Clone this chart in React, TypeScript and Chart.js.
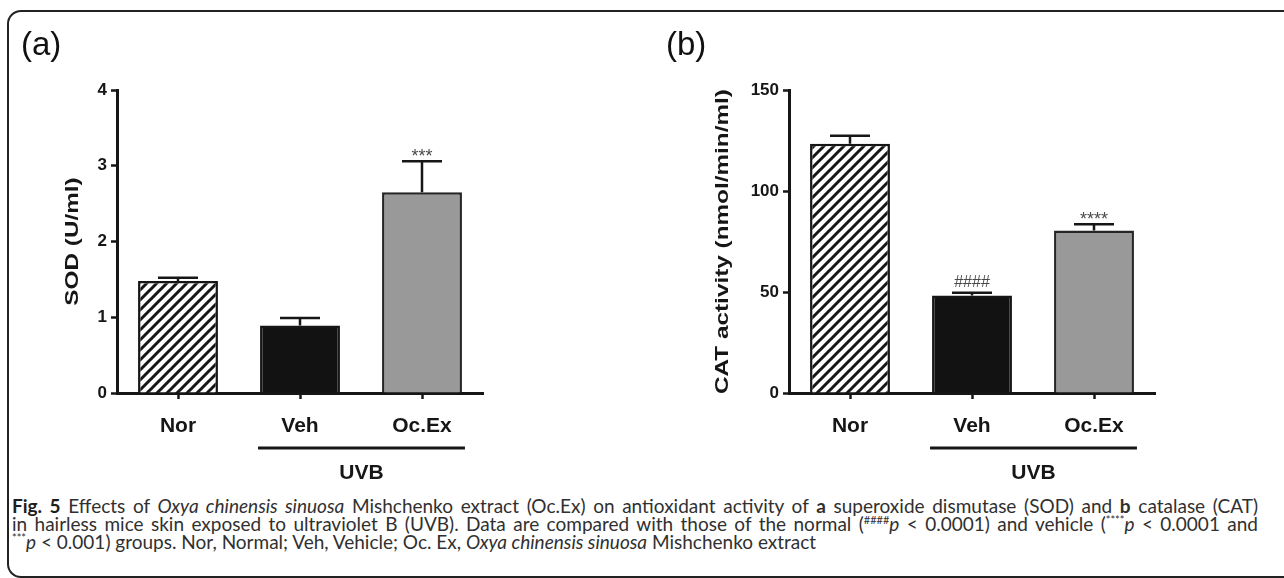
import React, { useEffect, useRef } from 'react';
import { Chart, registerables } from 'chart.js';

Chart.register(...registerables);

// ---------- data ----------
const categories = ['Nor', 'Veh', 'Oc.Ex'];

const sodMean = [1.48, 0.89, 2.65];
const sodErr = [0.04, 0.1, 0.41];
const sodSig = ['', '', '***'];
const sodMax = 4;
const sodStep = 1;

const catMean = [123.4, 48.3, 80.4];
const catErr = [3.9, 1.3, 3.2];
const catSig = ['', '####', '****'];
const catMax = 150;
const catStep = 50;

const groupLabel = 'UVB';
const groupMembers = [1, 2];
const panelLabels = ['(a)', '(b)'];
const yTitles = ['SOD (U/ml)', 'CAT activity (nmol/min/ml)'];

// ---------- style ----------
const INK = '#161616';
const FAMILY = '"Liberation Sans", Arial, sans-serif';

function hatchPattern(): CanvasPattern | string {
  const s = 10;
  const c = document.createElement('canvas');
  c.width = s;
  c.height = s;
  const g = c.getContext('2d');
  if (!g) return '#ffffff';
  g.fillStyle = '#ffffff';
  g.fillRect(0, 0, s, s);
  g.strokeStyle = INK;
  g.lineWidth = 3;
  g.beginPath();
  g.moveTo(-2, 2);
  g.lineTo(2, -2);
  g.moveTo(0, s);
  g.lineTo(s, 0);
  g.moveTo(s - 2, s + 2);
  g.lineTo(s + 2, s - 2);
  g.stroke();
  const p = g.createPattern(c, 'repeat');
  return p || '#ffffff';
}

interface PanelCfg {
  mean: number[];
  err: number[];
  sig: string[];
  max: number;
  step: number;
  title: string;
  panel: string;
  yWidth: number;
  padRight: number;
  titleX: number;
  panelX: number;
}

function buildChart(canvas: HTMLCanvasElement, cfg: PanelCfg) {
  const decor = {
    id: 'decor',
    afterDatasetsDraw(chart: any) {
      const ctx = chart.ctx as CanvasRenderingContext2D;
      const meta = chart.getDatasetMeta(0);
      const y = chart.scales.y;
      ctx.save();
      ctx.strokeStyle = INK;
      ctx.lineWidth = 2.5;
      cfg.mean.forEach((m, i) => {
        const bar = meta.data[i];
        const yTop = y.getPixelForValue(m + cfg.err[i]);
        const yM = y.getPixelForValue(m);
        ctx.beginPath();
        ctx.moveTo(bar.x, yM);
        ctx.lineTo(bar.x, yTop);
        ctx.moveTo(bar.x - 20, yTop);
        ctx.lineTo(bar.x + 20, yTop);
        ctx.stroke();
        const s = cfg.sig[i];
        if (s) {
          const isHash = s.indexOf('#') >= 0;
          ctx.font = (isHash ? '16px ' : '18px ') + FAMILY;
          ctx.fillStyle = '#4a4a4a';
          ctx.textAlign = 'center';
          ctx.textBaseline = 'alphabetic';
          ctx.fillText(s, bar.x, isHash ? yTop - 6 : yTop + 1);
        }
      });
      ctx.restore();
    },
    afterDraw(chart: any) {
      const ctx = chart.ctx as CanvasRenderingContext2D;
      const meta = chart.getDatasetMeta(0);
      const y = chart.scales.y;
      const area = chart.chartArea;
      ctx.save();
      // group bracket
      const first = meta.data[groupMembers[0]];
      const last = meta.data[groupMembers[groupMembers.length - 1]];
      const x1 = first.x - first.width / 2 - 2;
      const x2 = last.x + last.width / 2 + 3;
      const by = area.bottom + 55;
      ctx.strokeStyle = INK;
      ctx.lineWidth = 3;
      ctx.beginPath();
      ctx.moveTo(x1, by);
      ctx.lineTo(x2, by);
      ctx.stroke();
      ctx.fillStyle = INK;
      ctx.font = 'bold 21px ' + FAMILY;
      ctx.textAlign = 'center';
      ctx.textBaseline = 'middle';
      ctx.fillText(groupLabel, (x1 + x2) / 2, area.bottom + 80);
      // y title (stretched along its length)
      ctx.save();
      ctx.translate(cfg.titleX, (y.top + y.bottom) / 2);
      ctx.rotate(-Math.PI / 2);
      ctx.scale(1.28, 1);
      ctx.font = 'bold 19px ' + FAMILY;
      ctx.textAlign = 'center';
      ctx.textBaseline = 'middle';
      ctx.fillText(cfg.title, 0, 0);
      ctx.restore();
      // panel label
      ctx.font = '33px ' + FAMILY;
      ctx.textAlign = 'left';
      ctx.textBaseline = 'alphabetic';
      ctx.fillStyle = '#111111';
      ctx.fillText(cfg.panel, cfg.panelX, 55);
      ctx.restore();
    },
  };

  return new Chart(canvas, {
    type: 'bar',
    data: {
      labels: categories,
      datasets: [
        {
          data: cfg.mean,
          backgroundColor: [hatchPattern() as any, '#121212', '#999999'],
          borderColor: [INK, INK, '#252525'],
          borderWidth: 2.5,
          barPercentage: 0.655,
          categoryPercentage: 1,
        },
      ],
    },
    options: {
      responsive: false,
      animation: false,
      devicePixelRatio: 1,
      layout: { padding: { left: 0, right: cfg.padRight, top: 90, bottom: 0 } },
      plugins: {
        legend: { display: false },
        tooltip: { enabled: false },
        title: { display: false },
      },
      scales: {
        x: {
          type: 'category',
          offset: true,
          z: 1,
          grid: {
            display: true,
            drawOnChartArea: false,
            drawTicks: true,
            offset: false,
            tickLength: 6,
            tickWidth: 2.5,
            tickColor: INK,
            color: INK,
          },
          border: { display: true, color: INK, width: 3 },
          ticks: {
            color: INK,
            font: { family: FAMILY, size: 21, weight: 'bold' },
            padding: 15,
            maxRotation: 0,
            autoSkip: false,
          },
          afterFit: (s: any) => {
            s.height = 97;
          },
        },
        y: {
          min: 0,
          max: cfg.max,
          z: 1,
          grid: {
            display: true,
            drawOnChartArea: false,
            drawTicks: true,
            tickLength: 6,
            tickWidth: 2.5,
            tickColor: INK,
          },
          border: { display: true, color: INK, width: 3 },
          ticks: {
            stepSize: cfg.step,
            color: INK,
            font: { family: FAMILY, size: 17, weight: 'bold' },
            padding: 4,
          },
          afterFit: (s: any) => {
            s.width = cfg.yWidth;
          },
        },
      },
    } as any,
    plugins: [decor],
  });
}

const capStyle: React.CSSProperties = {
  position: 'absolute',
  left: 12,
  fontFamily: 'Lato, "Open Sans", sans-serif',
  fontSize: 19,
  lineHeight: '18px',
  color: '#303030',
  whiteSpace: 'nowrap',
  display: 'inline-block',
  transformOrigin: 'left center',
};

const supStyle: React.CSSProperties = { fontSize: 11, lineHeight: 0, verticalAlign: 'super' };

export default function App() {
  const leftRef = useRef<HTMLCanvasElement>(null);
  const rightRef = useRef<HTMLCanvasElement>(null);
  const l1 = useRef<HTMLSpanElement>(null);
  const l2 = useRef<HTMLSpanElement>(null);
  const l3 = useRef<HTMLSpanElement>(null);

  useEffect(() => {
    const c1 = buildChart(leftRef.current as HTMLCanvasElement, {
      mean: sodMean,
      err: sodErr,
      sig: sodSig,
      max: sodMax,
      step: sodStep,
      title: yTitles[0],
      panel: panelLabels[0],
      yWidth: 117,
      padRight: 157,
      titleX: 73,
      panelX: 21,
    });
    const c2 = buildChart(rightRef.current as HTMLCanvasElement, {
      mean: catMean,
      err: catErr,
      sig: catSig,
      max: catMax,
      step: catStep,
      title: yTitles[1],
      panel: panelLabels[1],
      yWidth: 149,
      padRight: 129,
      titleX: 83,
      panelX: 26,
    });

    const fit = () => {
      const target = 1246;
      let r = 1;
      [l1.current, l2.current].forEach((el) => {
        if (!el) return;
        el.style.transform = '';
        el.style.wordSpacing = '';
        const w = el.getBoundingClientRect().width;
        if (w > target) {
          const k = target / w;
          r = Math.min(r, k);
          el.style.transform = `scaleX(${k})`;
        } else {
          const spaces = (el.textContent || '').split(' ').length - 1;
          el.style.wordSpacing = `${(target - w) / Math.max(spaces, 1)}px`;
        }
      });
      if (l3.current) l3.current.style.transform = r < 1 ? `scaleX(${r})` : '';
    };
    fit();
    if ((document as any).fonts && (document as any).fonts.ready) {
      (document as any).fonts.ready.then(fit);
    }
    return () => {
      c1.destroy();
      c2.destroy();
    };
  }, []);

  return (
    <div
      style={{
        position: 'absolute',
        left: 0,
        top: 0,
        width: 1284,
        height: 578,
        overflow: 'hidden',
        background: '#ffffff',
      }}
    >
      <div
        style={{
          position: 'absolute',
          left: 7,
          top: 10,
          width: 1320,
          height: 568,
          boxSizing: 'border-box',
          border: '2px solid #222222',
          borderRadius: 14,
        }}
      />
      <canvas ref={leftRef} width={640} height={490} style={{ position: 'absolute', left: 0, top: 0 }} />
      <canvas ref={rightRef} width={644} height={490} style={{ position: 'absolute', left: 640, top: 0 }} />
      <span ref={l1} style={{ ...capStyle, top: 497 }}>
        <b style={{ color: '#1e1e1e' }}>Fig. 5</b> Effects of <i>Oxya chinensis sinuosa</i> Mishchenko extract (Oc.Ex)
        on antioxidant activity of <b>a</b> superoxide dismutase (SOD) and <b>b</b> catalase (CAT)
      </span>
      <span ref={l2} style={{ ...capStyle, top: 515 }}>
        in hairless mice skin exposed to ultraviolet B (UVB). Data are compared with those of the normal (
        <sup style={supStyle}>####</sup>
        <i>p</i> &lt; 0.0001) and vehicle (<sup style={supStyle}>****</sup>
        <i>p</i> &lt; 0.0001 and
      </span>
      <span ref={l3} style={{ ...capStyle, top: 533 }}>
        <sup style={supStyle}>***</sup>
        <i>p</i> &lt; 0.001) groups. Nor, Normal; Veh, Vehicle; Oc. Ex, <i>Oxya chinensis sinuosa</i> Mishchenko
        extract
      </span>
    </div>
  );
}
